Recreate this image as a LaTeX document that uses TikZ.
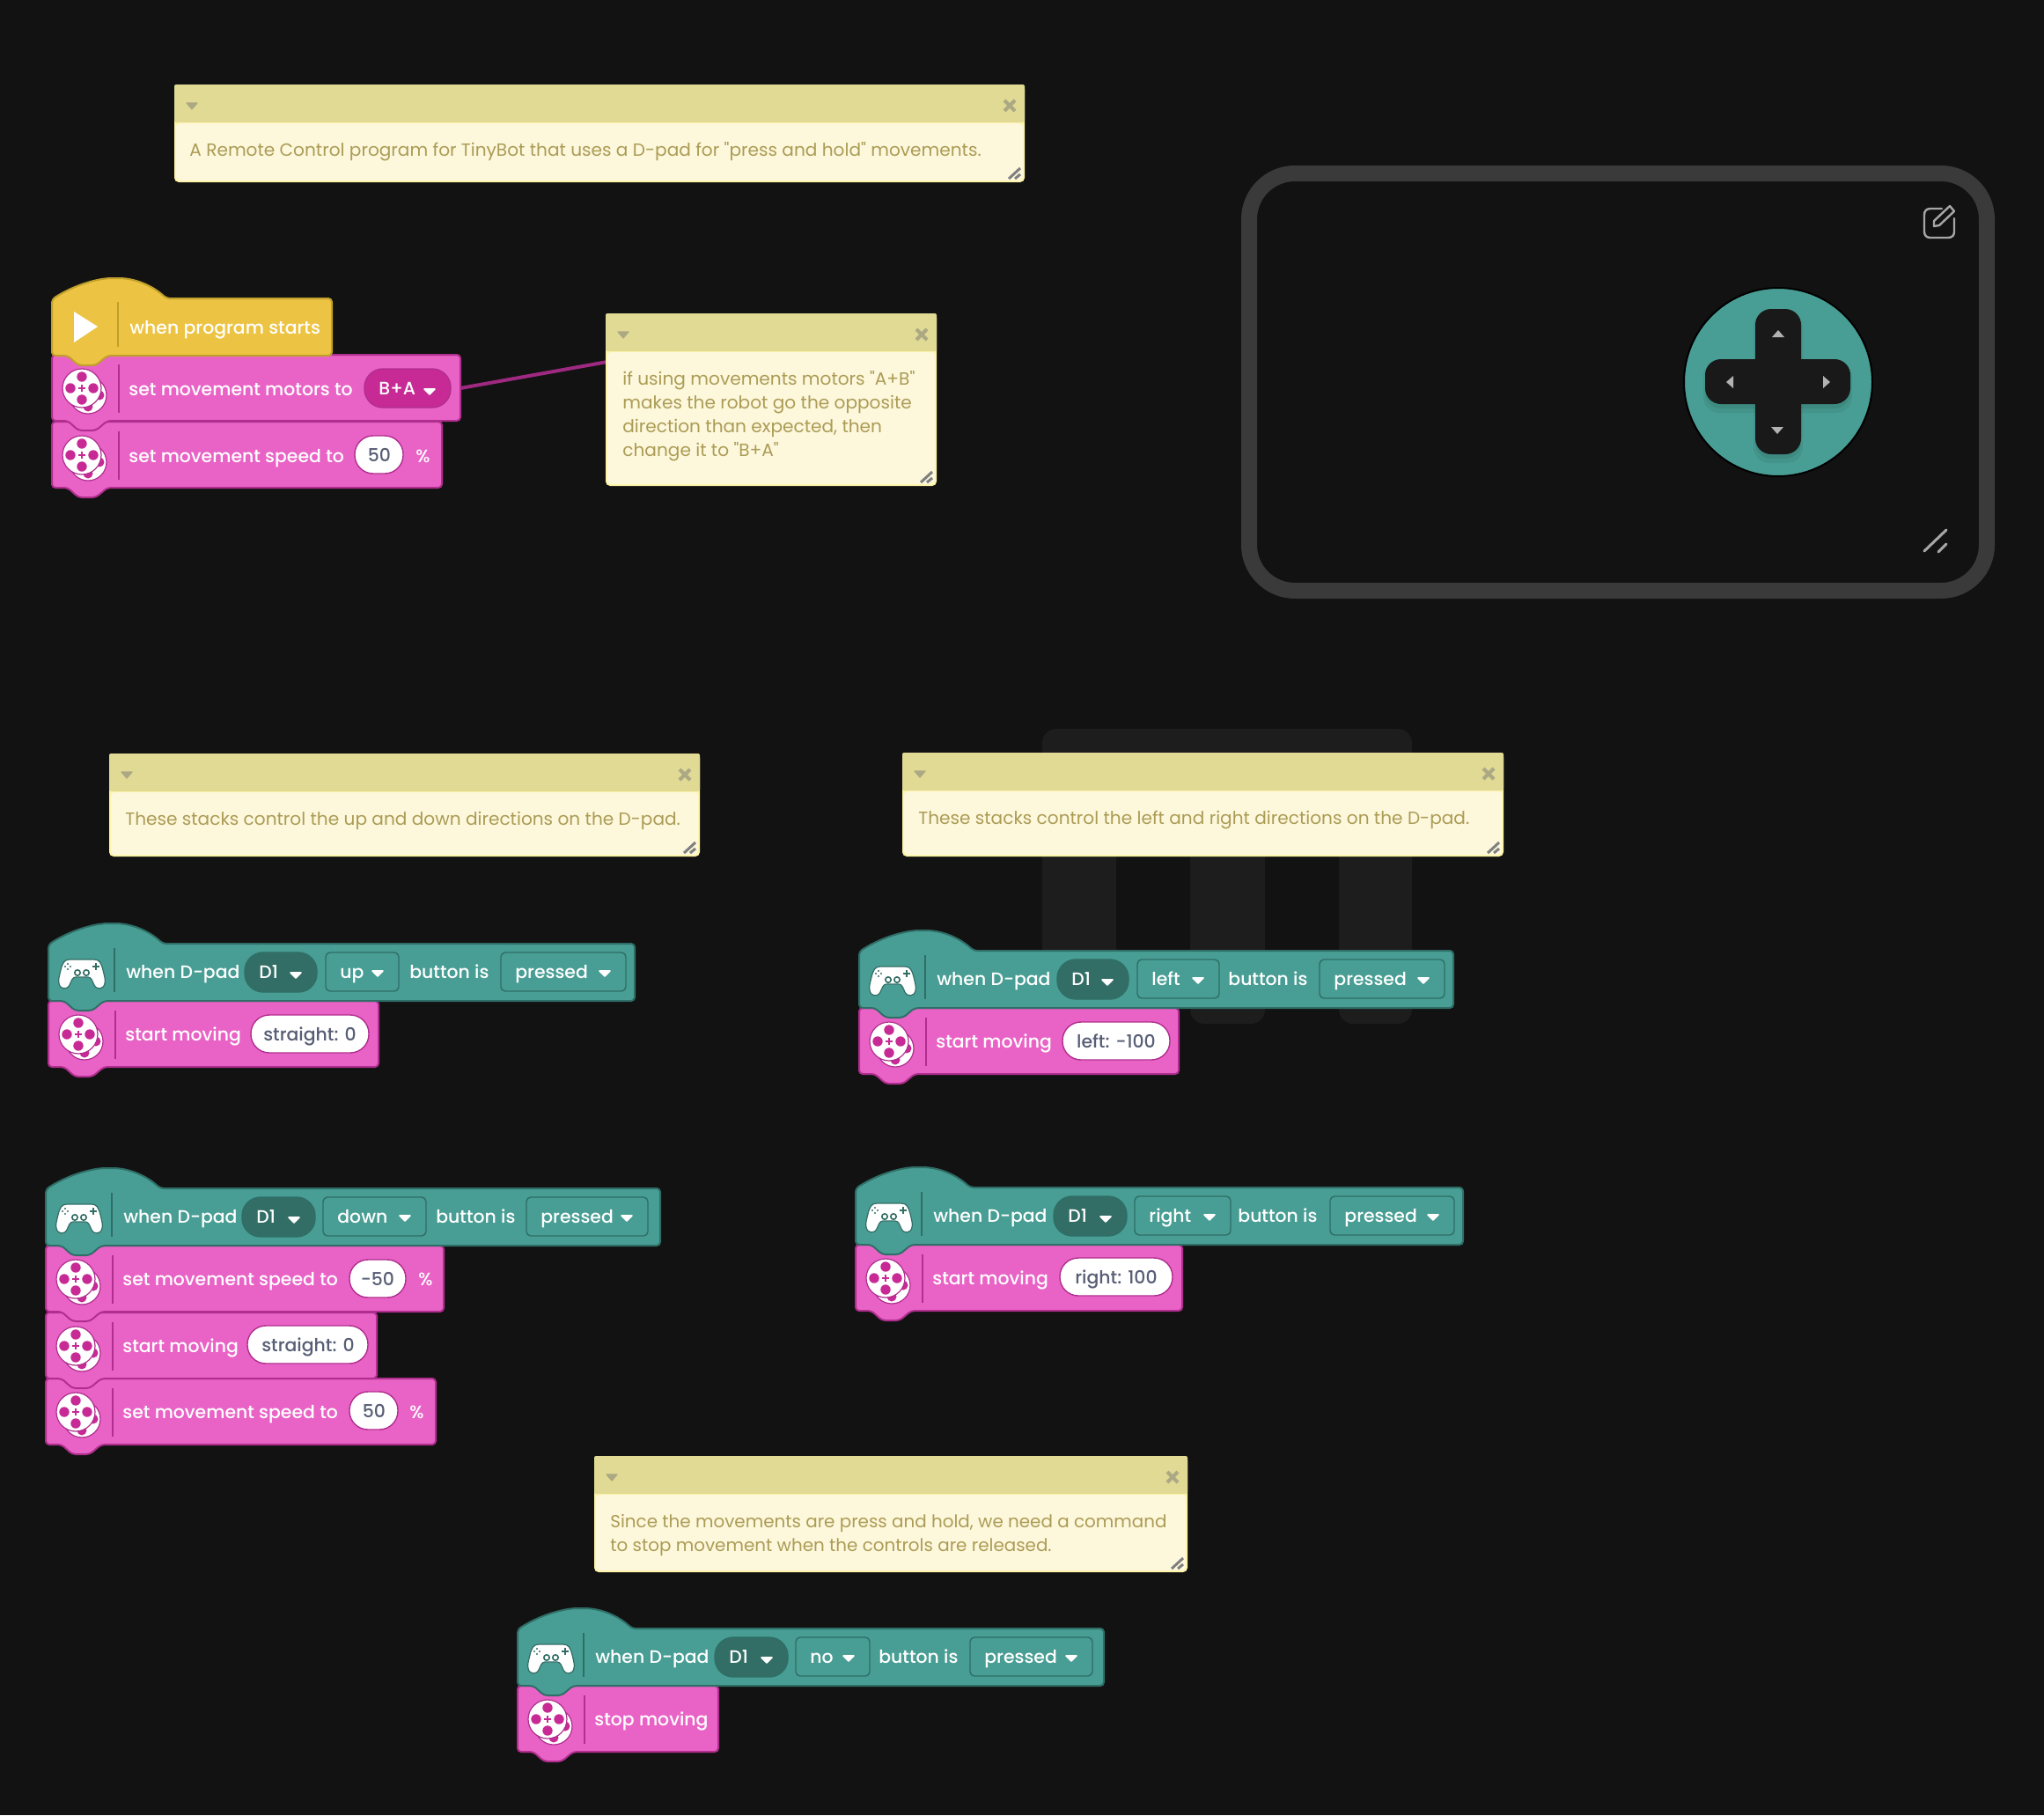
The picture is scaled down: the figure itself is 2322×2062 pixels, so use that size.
\documentclass[tikz,border=0pt]{standalone}
\usepackage{fontspec}
\setmainfont{Poppins}
\newfontfamily\blockfont{Poppins Medium}
\newfontfamily\notefont{Poppins}
\definecolor{bg}{HTML}{121212}
\definecolor{pinkf}{HTML}{E963C6}
\definecolor{pinkb}{HTML}{B02E8E}
\definecolor{pinkd}{HTML}{C72A95}
\definecolor{tealf}{HTML}{489E94}
\definecolor{tealb}{HTML}{2F6E66}
\definecolor{teald}{HTML}{336E66}
\definecolor{yelf}{HTML}{ECC342}
\definecolor{yelb}{HTML}{C09F2C}
\definecolor{greytxt}{HTML}{575E75}
\definecolor{notebar}{HTML}{E0DA94}
\definecolor{notebody}{HTML}{FDF7DC}
\definecolor{noteedge}{HTML}{FFF5A8}
\definecolor{notetxt}{HTML}{AB9C55}
\definecolor{noteicon}{HTML}{ACA884}
\definecolor{devb}{HTML}{3A3A3A}
\definecolor{ghost}{HTML}{1D1D1D}
\newcounter{nn}
\tikzset{
 x=0.5pt,y=-0.5pt,
 blocktext/.style={anchor=base west,inner sep=0pt,text=white,font=\blockfont\fontsize{10.2}{12}\selectfont},
 inputtext/.style={anchor=base,inner sep=0pt,text=greytxt,font=\blockfont\fontsize{10.2}{12}\selectfont},
 notetext/.style={anchor=base west,inner sep=0pt,text=notetxt,font=\notefont\fontsize{10.05}{12}\selectfont},
 notetextb/.style={notetext,font=\notefont\fontsize{9.95}{12}\selectfont},
 blockline/.style={line width=1pt,line join=round,rounded corners=2pt},
}
% hat block: #1 L, #2 T, #3 R, #4 fill, #5 border
\newcommand{\hatblk}[5]{%
 \begin{scope}[shift={(#1,#2)}]
 \path[fill=#4,draw=#5,blockline]
  (0,1) .. controls (28,-17) and (55,-23) .. (72,-23) .. controls (95,-23) and (115,-14) .. (130,0)
  -- (\the\numexpr#3-#1\relax,0) -- (\the\numexpr#3-#1\relax,65)
  -- (63,65) -- (50,76) -- (30,76) -- (18,65) -- (0,65) -- cycle;
 \end{scope}}
% stack block: #1 L, #2 T, #3 R
\newcommand{\pinkblk}[3]{%
 \begin{scope}[shift={(#1,#2)}]
 \path[fill=pinkf,draw=pinkb,blockline]
  (0,0) -- (\the\numexpr#3-#1\relax,0) -- (\the\numexpr#3-#1\relax,75)
  -- (63,75) -- (50,86) -- (30,86) -- (18,75) -- (0,75) -- cycle;
 \draw[pinkb,line width=0.6pt] (76,11) -- (76,66);
 \path[fill=white,draw=pinkb,line width=0.6pt] (41,46) circle (21);
 \foreach \a in {0,90,180,270}{\path[fill=pinkd] (41,46) ++(\a:13) circle (5.5);}
 \path[fill=white,draw=pinkb,line width=0.6pt] (34,38) circle (22);
 \foreach \a in {0,90,180,270}{\path[fill=pinkd] (34,38) ++(\a:13) circle (5.7);}
 \draw[pinkd,line width=1.1pt] (30,38) -- (38,38) (34,34) -- (34,42);
 \end{scope}}
\newcommand{\gamepad}[2]{%
 \begin{scope}[shift={(#1,#2)}]
 \path[fill=white,draw=teald,line width=0.6pt]
  (-14,-16) -- (14,-16) .. controls (20,-16) and (22,-12) .. (24,-4) .. controls (26,4) and (27,8) .. (26,11)
  .. controls (25,18) and (17,19) .. (14,13) .. controls (12,9) and (11,4) .. (7,4) -- (-7,4)
  .. controls (-11,4) and (-12,9) .. (-14,13) .. controls (-17,19) and (-25,18) .. (-26,11)
  .. controls (-27,8) and (-26,4) .. (-24,-4) .. controls (-22,-12) and (-20,-16) .. (-14,-16) -- cycle;
 \draw[teald,line width=0.8pt] (-5,-1) circle (3.2) (5,-1) circle (3.2);
 \draw[teald,line width=0.9pt] (12,-8) -- (20,-8) (16,-12) -- (16,-4);
 \fill[teald] (-16,-11) circle (1.1) (-16,-5) circle (1.1) (-19,-8) circle (1.1) (-13,-8) circle (1.1);
 \end{scope}}
\newcommand{\lbl}[4][blocktext]{\stepcounter{nn}\node[#1] (t\arabic{nn}) at (#2,#3) {#4};}
\newcommand{\darrow}[2]{\path[fill=white,draw=white,line width=0.8pt,line join=round] (\the\numexpr#1-6\relax,\the\numexpr#2-3\relax) -- (\the\numexpr#1+6\relax,\the\numexpr#2-3\relax) -- (#1,\the\numexpr#2+3\relax) -- cycle;}
\newcommand{\ady}{24}
% dropdown: #1 fill,#2 border,#3 radius,#4 x1,#5 x2,#6 y1,#7 y2,#8 text
\newcommand{\dropf}[8]{%
 \path[fill=#1,draw=#2,line width=0.7pt,rounded corners=#3pt] (#4,#6) rectangle (#5,#7);
 \lbl{\the\numexpr#4+16\relax}{\the\numexpr#6+29\relax}{#8}
 \darrow{\the\numexpr#5-24\relax}{\the\numexpr#6+\ady\relax}}
\newcommand{\inpf}[5]{%
 \path[fill=white,draw=pinkb,line width=0.7pt,rounded corners=10.5pt] (#1,#3) rectangle (#2,#4);
 \edef\inpmid{\the\numexpr(#1+#2)/2\relax}%
 \lbl[inputtext]{\inpmid}{\the\numexpr#3+29\relax}{#5}}
% teal hat with all of its fields
\newcommand{\padhat}[9]{% #1 L #2 T #3 R #4 D1x1 #5 D1x2 #6 btn x1 #7 btn x2 #8 text #9 btn-is x
 \hatblk{#1}{#2}{#3}{tealf}{tealb}
 \draw[tealb,line width=0.6pt] (\the\numexpr#1+75\relax,\the\numexpr#2+5\relax) -- (\the\numexpr#1+75\relax,\the\numexpr#2+55\relax);
 \gamepad{\the\numexpr#1+38\relax}{\the\numexpr#2+34\relax}
 \lbl{\the\numexpr#1+88\relax}{\the\numexpr#2+39\relax}{when D-pad}
 \renewcommand{\ady}{26}
 \dropf{teald}{tealb}{10.5}{#4}{#5}{\the\numexpr#2+10\relax}{\the\numexpr#2+55\relax}{D1}
 \renewcommand{\ady}{24}
 \dropf{tealf}{tealb}{2.5}{#6}{#7}{\the\numexpr#2+10\relax}{\the\numexpr#2+54\relax}{#8}
 \lbl{#9}{\the\numexpr#2+39\relax}{button is}}
\newcommand{\pressedf}[3]{\dropf{tealf}{tealb}{2.5}{#1}{#2}{\the\numexpr#3+10\relax}{\the\numexpr#3+54\relax}{pressed}}
% note: #1 x1 #2 y1 #3 x2 #4 y2
\newcommand{\notebox}[4]{%
 \path[fill=noteedge,rounded corners=2.5pt] (#1,#2) rectangle (#3,#4);
 \path[fill=notebody,rounded corners=2pt] (\the\numexpr#1+2\relax,\the\numexpr#2+44\relax) rectangle (\the\numexpr#3-2\relax,\the\numexpr#4-2\relax);
 \path[fill=notebar,rounded corners=1pt] (#1,#2) rectangle (#3,\the\numexpr#2+43\relax);
 \path[fill=noteicon,line join=round,draw=noteicon,line width=0.6pt] (\the\numexpr#1+14\relax,\the\numexpr#2+21\relax) -- (\the\numexpr#1+26\relax,\the\numexpr#2+21\relax) -- (\the\numexpr#1+20\relax,\the\numexpr#2+28\relax) -- cycle;
 \draw[noteicon,line width=2pt] (\the\numexpr#3-23\relax,\the\numexpr#2+18\relax) -- (\the\numexpr#3-11\relax,\the\numexpr#2+30\relax) (\the\numexpr#3-11\relax,\the\numexpr#2+18\relax) -- (\the\numexpr#3-23\relax,\the\numexpr#2+30\relax);
 \draw[gray,line width=1.5pt] (\the\numexpr#3-18\relax,\the\numexpr#4-4\relax) -- (\the\numexpr#3-5\relax,\the\numexpr#4-16\relax) (\the\numexpr#3-11\relax,\the\numexpr#4-4\relax) -- (\the\numexpr#3-5\relax,\the\numexpr#4-9\relax);}
\begin{document}
\begin{tikzpicture}
\useasboundingbox (0,0) rectangle (2322,2062);
\fill[bg] (0,0) rectangle (2322,2062);
% faint watermark behind the notes
\path[fill=ghost,rounded corners=8pt] (1184,828) rectangle (1604,1000);
\path[fill=ghost,rounded corners=8pt] (1184,900) rectangle (1268,1163);
\path[fill=ghost,rounded corners=8pt] (1352,900) rectangle (1437,1163);
\path[fill=ghost,rounded corners=8pt] (1521,900) rectangle (1604,1163);
\path[fill=bg] (1268,950) rectangle (1352,1200) (1437,950) rectangle (1521,1200);
% device
\path[draw=devb,line width=9pt,rounded corners=26pt] (1419,197) rectangle (2257,671);
\path[fill=tealf,draw=devb!130,line width=1pt] (2020,434) circle (107);
\path[fill=tealb,opacity=.2,rounded corners=9pt] (1992,353) rectangle (2048,526);
\path[fill=tealb,opacity=.2,rounded corners=9pt] (1935,410) rectangle (2104,469);
\path[fill=tealb,opacity=.25,rounded corners=9pt] (1994,355) rectangle (2046,521);
\path[fill=tealb,opacity=.25,rounded corners=9pt] (1937,412) rectangle (2102,464);
\path[fill=black!90,rounded corners=9pt] (1994,351) rectangle (2046,516);
\path[fill=black!90,rounded corners=9pt] (1937,408) rectangle (2102,459);
\fill[black!30] (2013,383) -- (2027,383) -- (2020,375) -- cycle;
\fill[black!30] (2012,485) -- (2026,485) -- (2019,493) -- cycle;
\fill[black!30] (1969,427) -- (1969,441) -- (1961,434) -- cycle;
\fill[black!30] (2071,427) -- (2071,441) -- (2079,434) -- cycle;
\draw[black!35,line width=1.2pt,line cap=round,line join=round] (2206,237) -- (2193,237) .. controls (2188,237) and (2186,240) .. (2186,244) -- (2186,263) .. controls (2186,268) and (2189,270) .. (2193,270) -- (2213,270) .. controls (2218,270) and (2220,267) .. (2220,263) -- (2220,248);
\draw[black!35,line width=1.2pt,line join=round] (2197,251) -- (2215,234) -- (2220,240) -- (2203,256) -- (2197,257) -- cycle;
\draw[black!35,line width=1.5pt,line cap=round] (2186,626) -- (2211,602) (2202,627) -- (2211,618);
% connector
\coordinate (motorsEnd) at (523,441);
\coordinate (noteTwoEdge) at (690,411);
\draw[pinkb!90!black,line width=2pt] (motorsEnd) -- (noteTwoEdge);
% notes
\notebox{198}{96}{1164}{207}
\lbl[notetext]{215}{177}{A Remote Control program for TinyBot that uses a D-pad for "press and hold" movements.}
\notebox{688}{356}{1064}{552}
\lbl[notetext]{707}{437}{if using movements motors "A+B"}
\lbl[notetext]{707}{464}{makes the robot go the opposite}
\lbl[notetext]{707}{491}{direction than expected, then}
\lbl[notetext]{707}{518}{change it to "B+A"}
\notebox{124}{856}{795}{973}
\lbl[notetext]{142}{937}{These stacks control the up and down directions on the D-pad.}
\notebox{1025}{855}{1708}{973}
\lbl[notetext]{1043}{936}{These stacks control the left and right directions on the D-pad.}
\notebox{675}{1654}{1349}{1786}
\lbl[notetextb]{693}{1735}{Since the movements are press and hold, we need a command}
\lbl[notetextb]{693}{1762}{to stop movement when the controls are released.}
% first stack
\pinkblk{59}{479}{502}
\lbl{146}{525}{set movement speed to}
\inpf{403}{458}{495}{538}{50}
\lbl{472}{525}{\%}
\pinkblk{59}{403}{523}
\lbl{146}{449}{set movement motors to}
\renewcommand{\ady}{26}
\dropf{pinkd}{pinkb}{10.5}{414}{512}{419}{463}{B+A}
\renewcommand{\ady}{24}
\hatblk{59}{339}{377}{yelf}{yelb}
\draw[yelb,line width=0.6pt] (134,343) -- (134,394);
\fill[white] (84,354) -- (111,371) -- (84,389) -- cycle;
\lbl{147}{379}{when program starts}
% up
\pinkblk{55}{1137}{430}
\lbl{142}{1182}{start moving}
\inpf{285}{419}{1153}{1196}{straight: 0}
\padhat{55}{1072}{721}{278}{360}{370}{453}{up}{465}
\pressedf{569}{711}{1072}
% down
\pinkblk{52}{1566}{495}
\lbl{139}{1611}{set movement speed to}
\inpf{397}{452}{1581}{1624}{50}
\lbl{465}{1611}{\%}
\pinkblk{52}{1491}{428}
\lbl{139}{1536}{start moving}
\inpf{281}{418}{1506}{1549}{straight: 0}
\pinkblk{52}{1415}{504}
\lbl{139}{1460}{set movement speed to}
\inpf{397}{461}{1431}{1474}{-50}
\lbl{475}{1460}{\%}
\padhat{52}{1350}{750}{275}{358}{367}{484}{down}{495}
\pressedf{598}{736}{1350}
% left
\pinkblk{976}{1145}{1339}
\lbl{1063}{1190}{start moving}
\inpf{1207}{1329}{1161}{1204}{left: -100}
\padhat{976}{1080}{1651}{1201}{1282}{1292}{1385}{left}{1395}
\pressedf{1499}{1641}{1080}
% right
\pinkblk{972}{1414}{1343}
\lbl{1059}{1459}{start moving}
\inpf{1204}{1332}{1429}{1472}{right: 100}
\padhat{972}{1349}{1662}{1197}{1280}{1289}{1398}{right}{1406}
\pressedf{1511}{1652}{1349}
% stop
\pinkblk{588}{1915}{816}
\lbl{675}{1960}{stop moving}
\padhat{588}{1850}{1254}{812}{895}{904}{988}{no}{998}
\pressedf{1102}{1241}{1850}
\end{tikzpicture}
\end{document}
